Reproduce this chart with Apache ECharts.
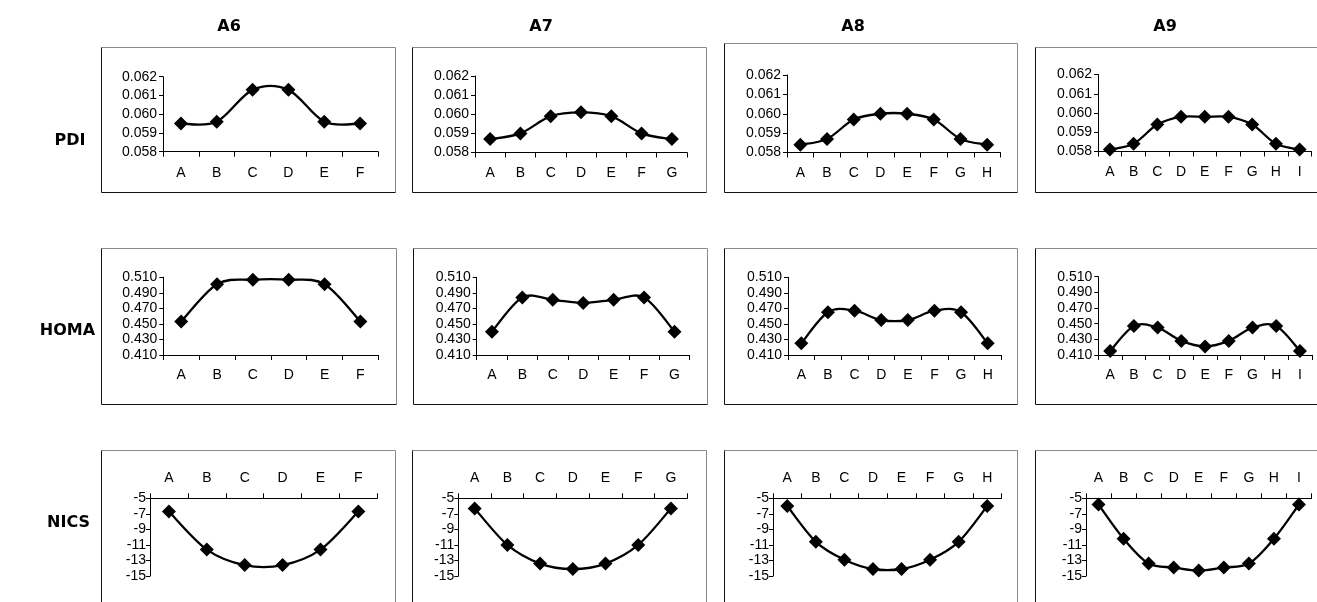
<!DOCTYPE html>
<html><head><meta charset="utf-8">
<script src="https://cdn.jsdelivr.net/npm/echarts@6/dist/echarts.min.js"></script>
<style>html,body{margin:0;padding:0;background:#fff}#c{width:1317px;height:602px}</style>
</head><body><div id="c"></div>
<script>
// ---------- data ----------
const catsA6 = ['A','B','C','D','E','F'];
const catsA7 = ['A','B','C','D','E','F','G'];
const catsA8 = ['A','B','C','D','E','F','G','H'];
const catsA9 = ['A','B','C','D','E','F','G','H','I'];
const colTitles = ['A6','A7','A8','A9'];
const rowTitles = ['PDI','HOMA','NICS'];

const pdiA6 = [0.0595,0.0596,0.0613,0.0613,0.0596,0.0595];
const pdiA7 = [0.0587,0.0590,0.0599,0.0601,0.0599,0.0590,0.0587];
const pdiA8 = [0.0584,0.0587,0.0597,0.0600,0.0600,0.0597,0.0587,0.0584];
const pdiA9 = [0.0581,0.0584,0.0594,0.0598,0.0598,0.0598,0.0594,0.0584,0.0581];

const homaA6 = [0.453,0.501,0.507,0.507,0.501,0.453];
const homaA7 = [0.440,0.484,0.481,0.477,0.481,0.484,0.440];
const homaA8 = [0.425,0.465,0.467,0.455,0.455,0.467,0.465,0.425];
const homaA9 = [0.415,0.447,0.445,0.428,0.421,0.428,0.445,0.447,0.415];

const nicsA6 = [-6.7,-11.6,-13.6,-13.6,-11.6,-6.7];
const nicsA7 = [-6.3,-11.0,-13.4,-14.1,-13.4,-11.0,-6.3];
const nicsA8 = [-6.0,-10.6,-12.9,-14.1,-14.1,-12.9,-10.6,-6.0];
const nicsA9 = [-5.8,-10.2,-13.4,-13.9,-14.3,-13.9,-13.4,-10.2,-5.8];

const pdiTicks = [0.058,0.059,0.060,0.061,0.062];
const homaTicks = [0.410,0.430,0.450,0.470,0.490,0.510];
const nicsTicks = [-15,-13,-11,-9,-7,-5];

// ---------- layout ----------
const cats = [catsA6, catsA7, catsA8, catsA9];
const rowsData = [[pdiA6,pdiA7,pdiA8,pdiA9],[homaA6,homaA7,homaA8,homaA9],[nicsA6,nicsA7,nicsA8,nicsA9]];
const rowTicks = [pdiTicks, homaTicks, nicsTicks];
const rowDecimals = [3,3,0];

const gridPos = [
  [[163,76.7,215,75],[475,76,212,76.5],[787,75,213.5,77.5],[1098,74.5,213.5,77]],
  [[163.3,277.3,215,77.7],[476.7,277.3,213,77.7],[788,277.3,213,77.7],[1098.3,276.7,213.5,78.3]],
  [[150,498.3,227.3,77.7],[458.3,498.3,229,77.7],[773,498.3,228.5,77.7],[1086,498.3,225.5,77.7]]
];
const boxPos = [
  [[101.5,47.5,395.5,192.5],[412.5,47.5,706.5,192.5],[724.5,43.5,1017.5,192.5],[1035.5,47.5,1330,192.5]],
  [[101.5,248.5,396.5,404.5],[413.5,248.5,707.5,404.5],[724.5,248.5,1017.5,404.5],[1035.5,248.5,1330,404.5]],
  [[101.5,450.5,395.5,640],[412.5,450.5,706.5,640],[724.5,450.5,1017.5,640],[1035.5,450.5,1330,640]]
];
const titleX = [229,541,853,1165];
const titleY = 27;
const rowLabelPos = [[70,141],[67.5,331],[68.5,523]];

const labelFont = 'Liberation Sans, Arial, sans-serif';

// Excel-style smoothed curve (Catmull-Rom through the points, mapped by the axes)
function curveSeries(data, idx){
  const n = data.length;
  return {
    type:'custom', xAxisIndex:idx, yAxisIndex:idx, z:2, clip:false, silent:true,
    data:data.map((v,i)=>[i,v]),
    renderItem:(params, api)=>{
      const i = params.dataIndex;
      if (i >= n-1) return null;
      const P = k => { const kk = Math.max(0, Math.min(n-1, k)); return api.coord([kk, data[kk]]); };
      const p0=P(i-1), p1=P(i), p2=P(i+1), p3=P(i+2);
      const c1=[p1[0]+(p2[0]-p0[0])/6, p1[1]+(p2[1]-p0[1])/6];
      const c2=[p2[0]-(p3[0]-p1[0])/6, p2[1]-(p3[1]-p1[1])/6];
      return {type:'bezierCurve',
        shape:{x1:p1[0],y1:p1[1],x2:p2[0],y2:p2[1],cpx1:c1[0],cpy1:c1[1],cpx2:c2[0],cpy2:c2[1]},
        style:{stroke:'#000', lineWidth:2.3, fill:'none'}};
    }
  };
}

const grids=[], xAxes=[], yAxes=[], series=[], graphics=[];
let idx = 0;
for (let r=0;r<3;r++){
  for (let c=0;c<4;c++){
    const g = gridPos[r][c];
    grids.push({left:g[0], top:g[1], width:g[2], height:g[3], containLabel:false});
    const ticks = rowTicks[r];
    const dec = rowDecimals[r];
    xAxes.push({
      type:'category', gridIndex:idx, data:cats[c], boundaryGap:true,
      position: r===2 ? 'top' : 'bottom',
      axisLine:{show:true, onZero:false, lineStyle:{color:'#000', width:1}},
      axisTick:{show:true, length:5, lineStyle:{color:'#000'}},
      axisLabel:{color:'#000', fontSize:14, fontFamily:labelFont, margin: r===0 ? 14 : 13},
      splitLine:{show:false}
    });
    yAxes.push({
      type:'value', gridIndex:idx, min:ticks[0], max:ticks[ticks.length-1],
      axisLine:{show:true, lineStyle:{color:'#000', width:1}},
      axisTick:{show:true, length:4, customValues:ticks, lineStyle:{color:'#000'}},
      axisLabel:{color:'#000', fontSize:14, fontFamily:labelFont, margin: r===2 ? 4 : 6,
        customValues:ticks, formatter:(v)=> dec ? Number(v).toFixed(dec) : String(Math.round(v))},
      splitLine:{show:false}
    });
    series.push(curveSeries(rowsData[r][c], idx));
    series.push({
      type:'line', xAxisIndex:idx, yAxisIndex:idx, data:rowsData[r][c], z:3,
      symbol:'diamond', symbolSize:14, clip:false, showAllSymbol:true,
      itemStyle:{color:'#000'}, lineStyle:{width:0, opacity:0}
    });
    const b = boxPos[r][c];
    graphics.push({type:'line', shape:{x1:b[0],y1:b[1],x2:b[2],y2:b[1]}, style:{stroke:'#8a8a8a', lineWidth:1}});
    graphics.push({type:'line', shape:{x1:b[2],y1:b[1],x2:b[2],y2:b[3]}, style:{stroke:'#8a8a8a', lineWidth:1}});
    graphics.push({type:'line', shape:{x1:b[0],y1:b[1],x2:b[0],y2:b[3]}, style:{stroke:'#111', lineWidth:1}});
    graphics.push({type:'line', shape:{x1:b[0],y1:b[3],x2:b[2],y2:b[3]}, style:{stroke:'#111', lineWidth:1}});
    idx++;
  }
}
for (let c=0;c<4;c++){
  graphics.push({type:'text', x:titleX[c], y:titleY, style:{text:colTitles[c], font:'bold 16px "DejaVu Sans"', fill:'#000', textAlign:'center', textVerticalAlign:'middle'}});
}
for (let r=0;r<3;r++){
  graphics.push({type:'text', x:rowLabelPos[r][0], y:rowLabelPos[r][1], style:{text:rowTitles[r], font:'bold 16px "DejaVu Sans"', fill:'#000', textAlign:'center', textVerticalAlign:'middle'}});
}

const chart = echarts.init(document.getElementById('c'), null, {renderer:'canvas'});
chart.setOption({
  animation:false, backgroundColor:'#fff',
  grid:grids, xAxis:xAxes, yAxis:yAxes, series:series, graphic:graphics
});
</script></body></html>
